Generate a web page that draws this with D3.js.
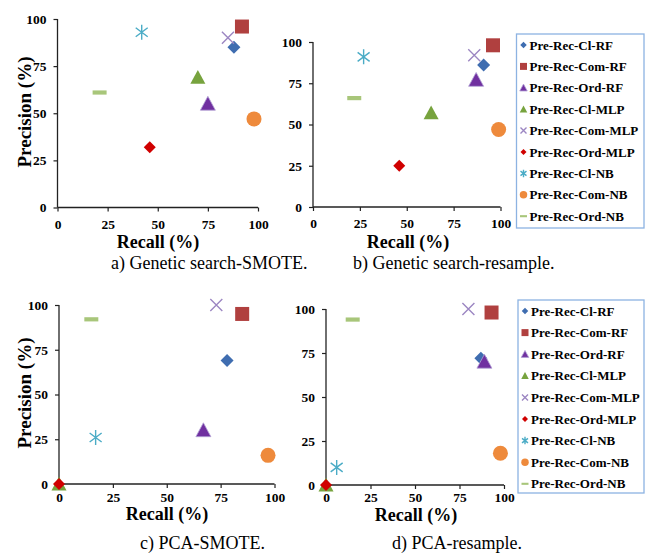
<!DOCTYPE html>
<html>
<head>
<meta charset="utf-8">
<script src="https://cdn.jsdelivr.net/npm/d3@7"></script>
<style>
body { margin: 0; background: #fff; }
text { font-family: "Liberation Serif", "Times New Roman", serif; }
</style>
</head>
<body>
<svg id="chart" width="654" height="560"></svg>
<script>
// series, in drawing order
var series = ["Pre-Rec-Cl-RF", "Pre-Rec-Com-RF", "Pre-Rec-Ord-RF",
              "Pre-Rec-Cl-MLP", "Pre-Rec-Com-MLP", "Pre-Rec-Ord-MLP",
              "Pre-Rec-Cl-NB", "Pre-Rec-Com-NB", "Pre-Rec-Ord-NB"];
var tickValues = [0, 25, 50, 75, 100];

// a) Genetic search-SMOTE
var recallA    = [88, 92, 75, 70, 85, 46, 42, 98, 21];
var precisionA = [85, 96, 55, 69, 90, 32, 93, 47, 61];
// b) Genetic search-resample
var recallB    = [91, 96, 87, 63, 86, 46, 27, 99, 22];
var precisionB = [86, 98, 77, 57, 92, 25, 91, 47, 66];
// c) PCA-SMOTE
var recallC    = [78, 85, 67, 0, 73, 0, 17, 97, 15];
var precisionC = [69, 95, 30, 0, 100, 0, 26, 16, 92];
// d) PCA-resample
var recallD    = [87, 93, 89, 0, 80, 0, 6, 98, 15];
var precisionD = [72, 98, 70, 0, 100, 0, 10, 18, 94];

var captions = ["a) Genetic search-SMOTE.", "b) Genetic search-resample.",
                "c) PCA-SMOTE.", "d) PCA-resample."];

var colors = ["#3f6db0", "#b0403f", "#7030a0", "#77a33e", "#9c86c2",
              "#d00000", "#4bacc6", "#ee8a3c", "#a8c67a"];
var shapes = ["diamond", "square", "triangle", "triangle", "x",
              "diamond", "star", "circle", "dash"];

var svg = d3.select("#chart");

// marker shapes as d3.symbol types, size = full width in px
function shapeType(name) {
    return {
        draw: function(ctx, s) {
            var h = s / 2;
            if (name == "diamond") {
                ctx.moveTo(0, -h); ctx.lineTo(h, 0); ctx.lineTo(0, h); ctx.lineTo(-h, 0); ctx.closePath();
            } else if (name == "square") {
                ctx.rect(-h, -h, s, s);
            } else if (name == "triangle") {
                ctx.moveTo(0, -h); ctx.lineTo(h, h * 0.85); ctx.lineTo(-h, h * 0.85); ctx.closePath();
            } else if (name == "circle") {
                ctx.moveTo(h, 0); ctx.arc(0, 0, h, 0, 2 * Math.PI);
            } else if (name == "dash") {
                ctx.rect(-h, -s * 0.15, s, s * 0.3);
            } else if (name == "x") {
                ctx.moveTo(-h, -h); ctx.lineTo(h, h); ctx.moveTo(-h, h); ctx.lineTo(h, -h);
            } else if (name == "star") {
                ctx.moveTo(0, -h); ctx.lineTo(0, h);
                ctx.moveTo(-h * 0.8, -h * 0.6); ctx.lineTo(h * 0.8, h * 0.6);
                ctx.moveTo(-h * 0.8, h * 0.6); ctx.lineTo(h * 0.8, -h * 0.6);
            }
        }
    };
}
var markerSize = [13, 14, 15, 15, 12, 12, 15, 15, 14];

function drawMarker(g, i, scale) {
    var name = shapes[i];
    var p = g.append("path")
        .attr("d", d3.symbol().type(shapeType(name)).size(markerSize[i] * scale)());
    if (name == "x" || name == "star") {
        p.attr("fill", "none").attr("stroke", colors[i]).attr("stroke-width", 1.4);
    } else {
        p.attr("fill", colors[i]);
        if (name == "triangle" && i == 2) p.attr("stroke", "#b3a2d6").attr("stroke-width", 0.8);
    }
}

var panels = [
    { rec: recallA, pre: precisionA, x0: 57.5, x1: 258, y0: 207.5, y1: 19, pad: 8,
      xt: [158, 247.5], yt: [31, 112], cap: [111, 269] },
    { rec: recallB, pre: precisionB, x0: 313, x1: 500.5, y0: 207, y1: 42, pad: 7.5,
      xt: [408, 247.5], yt: null, cap: [353, 269] },
    { rec: recallC, pre: precisionC, x0: 59, x1: 274.5, y0: 484, y1: 305, pad: 4,
      xt: [167, 519.5], yt: [31, 393], cap: [140, 549] },
    { rec: recallD, pre: precisionD, x0: 326, x1: 504, y0: 485, y1: 309, pad: 3,
      xt: [416, 520.5], yt: null, cap: [392, 549] }
];

panels.forEach(function(p, k) {
    var x = d3.scaleLinear().domain([0, 100]).range([p.x0, p.x1]);
    var y = d3.scaleLinear().domain([0, 100]).range([p.y0, p.y1]);

    var gx = svg.append("g")
        .attr("transform", "translate(0," + p.y0 + ")")
        .call(d3.axisBottom(x).tickValues(tickValues).tickSize(4).tickPadding(p.pad));
    var gy = svg.append("g")
        .attr("transform", "translate(" + p.x0 + ",0)")
        .call(d3.axisLeft(y).tickValues(tickValues).tickSize(4).tickPadding(7));
    [gx, gy].forEach(function(g) {
        g.select(".domain").attr("stroke", "#222").attr("stroke-width", 1.3);
        g.selectAll(".tick line").attr("stroke", "#222").attr("stroke-width", 1.2);
        g.selectAll(".tick text")
            .attr("fill", "#000")
            .style("font-family", '"Liberation Serif", serif')
            .style("font-weight", "bold")
            .style("font-size", "13.5px");
    });
    // axis domain without the end caps
    gx.select(".domain").attr("d", "M" + p.x0 + ",0H" + p.x1);
    gy.select(".domain").attr("d", "M0," + p.y0 + "V" + p.y1);

    var pts = svg.append("g");
    series.forEach(function(s, i) {
        var g = pts.append("g")
            .attr("transform", "translate(" + x(p.rec[i]) + "," + y(p.pre[i]) + ")");
        drawMarker(g, i, 1);
    });

    svg.append("text")
        .attr("x", p.xt[0]).attr("y", p.xt[1])
        .attr("text-anchor", "middle")
        .style("font-weight", "bold").style("font-size", "18px")
        .text("Recall (%)");
    if (p.yt) {
        svg.append("text")
            .attr("transform", "translate(" + p.yt[0] + "," + p.yt[1] + ") rotate(-90)")
            .attr("text-anchor", "middle")
            .style("font-weight", "bold").style("font-size", "19px")
            .text("Precision (%)");
    }
    svg.append("text")
        .attr("x", p.cap[0]).attr("y", p.cap[1])
        .style("font-size", "18px")
        .text(captions[k]);
});

// legends
function legend(left, top, right, bottom, firstY, step) {
    svg.append("rect")
        .attr("x", left).attr("y", top)
        .attr("width", right - left).attr("height", bottom - top)
        .attr("fill", "#fff").attr("stroke", "#8db3e2").attr("stroke-width", 1.3);
    series.forEach(function(s, i) {
        var yy = firstY + i * step;
        var g = svg.append("g").attr("transform", "translate(" + (left + 7) + "," + yy + ")");
        drawMarker(g, i, 0.5);
        svg.append("text")
            .attr("x", left + 13).attr("y", yy).attr("dy", "0.35em")
            .style("font-weight", "bold").style("font-size", "13px")
            .text(s);
    });
}
legend(516.5, 34, 644, 228, 45, 21.4);
legend(518, 300, 644, 493, 311, 21.6);
</script>
</body>
</html>
